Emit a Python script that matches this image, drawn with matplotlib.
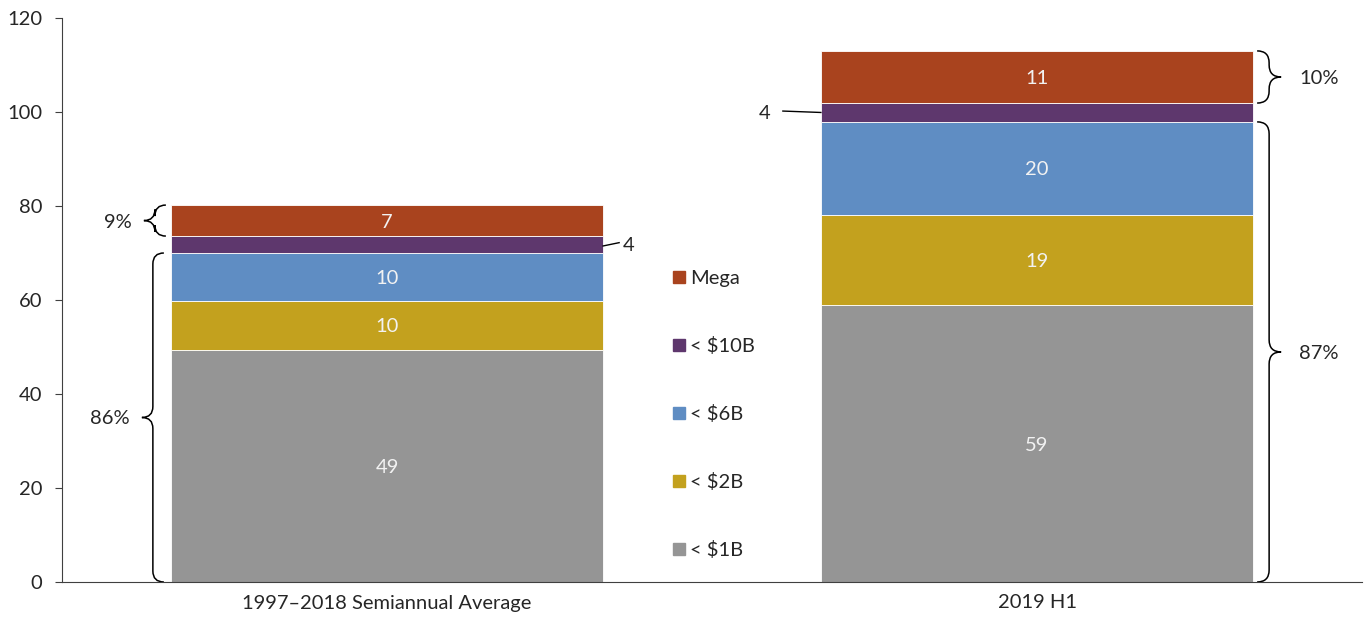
import matplotlib
matplotlib.use("Agg")
import matplotlib.pyplot as plt
from matplotlib.path import Path
from matplotlib.patches import PathPatch
import numpy as np

plt.rcParams['font.family'] = ['Lato', 'DejaVu Sans']

categories = ["1997\u20132018 Semiannual Average", "2019 H1"]
series = ["< $1B", "< $2B", "< $6B", "< $10B", "Mega"]
values = {
    "< $1B":  [49.4, 58.9],
    "< $2B":  [10.4, 19.2],
    "< $6B":  [10.2, 19.8],
    "< $10B": [3.6, 4.0],
    "Mega":   [6.6, 11.1],
}
colors = {
    "< $1B": "#959595",
    "< $2B": "#C3A11E",
    "< $6B": "#5F8DC3",
    "< $10B": "#5E376D",
    "Mega": "#A9431E",
}
share_small = ["86%", "87%"]   # < $6B and below
share_mega = ["9%", "10%"]
yticks = [0, 20, 40, 60, 80, 100, 120]

TXT = "#262626"
FS = 14.5
VA = "center_baseline"

fig = plt.figure(figsize=(13.67, 6.24), dpi=100)
ax = fig.add_axes([62/1367, 42/624, 1300/1367, 564/624])
ax.set_xlim(-0.5, 1.5)
ax.set_ylim(0, 120)

x = np.arange(len(categories))
W = 0.665
bottoms = np.zeros(len(categories))
tops = {}
for s in series:
    v = np.array(values[s])
    ax.bar(x, v, W, bottom=bottoms, color=colors[s], edgecolor="white", linewidth=0.6, zorder=2)
    for i in range(len(x)):
        if s != "< $10B":
            ax.text(x[i], bottoms[i] + v[i] / 2, f"{v[i]:.0f}", ha="center", va=VA,
                    color="#F2F2F2", fontsize=FS)
    tops[s] = (bottoms.copy(), bottoms + v)
    bottoms = bottoms + v

# axes styling
for sp in ["top", "right"]:
    ax.spines[sp].set_visible(False)
ax.spines["left"].set_color("#404040")
ax.spines["bottom"].set_color("#404040")
ax.set_yticks(yticks)
ax.set_yticklabels([str(t) for t in yticks], fontsize=FS, color=TXT)
ax.tick_params(axis="y", length=5, color="#404040", pad=9)
ax.set_xticks(x)
ax.set_xticklabels(categories, fontsize=FS, color=TXT)
ax.tick_params(axis="x", length=0, pad=9)

pxx = 1300 / 2.0   # px per x unit
pxy = 564 / 120.0  # px per y unit


def brace(xv, y0, y1, side, r=10):
    """side=-1 -> tip to left, +1 -> tip to right. xv is vertical line x (data)."""
    rx = r / pxx
    ry = r / pxy
    ym = (y0 + y1) / 2
    d = side
    verts = [
        (xv - d * rx, y1),
        (xv, y1), (xv, y1 - ry),
        (xv, ym + ry),
        (xv, ym), (xv + d * rx, ym),
        (xv, ym), (xv, ym - ry),
        (xv, y0 + ry),
        (xv, y0), (xv - d * rx, y0),
    ]
    codes = [Path.MOVETO,
             Path.CURVE3, Path.CURVE3,
             Path.LINETO,
             Path.CURVE3, Path.CURVE3,
             Path.CURVE3, Path.CURVE3,
             Path.LINETO,
             Path.CURVE3, Path.CURVE3]
    ax.add_patch(PathPatch(Path(verts, codes), fill=False, lw=1.1, color="black", zorder=3))
    return xv + d * rx, ym


left_edge = x[0] - W / 2
right_edge = x[1] + W / 2

# left bar braces
tx, ty = brace(left_edge - 18 / pxx, 0, tops["< $6B"][1][0], -1, r=11)
ax.text(tx - 12 / pxx, ty, share_small[0], ha="right", va=VA, fontsize=FS, color=TXT)
tx, ty = brace(left_edge - 16 / pxx, tops["Mega"][0][0], tops["Mega"][1][0], -1, r=11)
ax.text(tx - 12 / pxx, ty, share_mega[0], ha="right", va=VA, fontsize=FS, color=TXT)

# right bar braces
tx, ty = brace(right_edge + 16 / pxx, 0, tops["< $6B"][1][1], 1, r=12)
ax.text(tx + 18 / pxx, ty, share_small[1], ha="left", va=VA, fontsize=FS, color=TXT)
tx, ty = brace(right_edge + 16 / pxx, tops["Mega"][0][1], tops["Mega"][1][1], 1, r=12)
ax.text(tx + 18 / pxx, ty, share_mega[1], ha="left", va=VA, fontsize=FS, color=TXT)

# < $10B callouts
b, t = tops["< $10B"]
ym0 = (b[0] + t[0]) / 2
ax.plot([x[0] + W / 2, x[0] + W / 2 + 16 / pxx],
        [ym0 - 0.3, ym0 + 0.4], color="black", lw=1.0, zorder=3)
ax.text(x[0] + W / 2 + 20 / pxx, ym0 + 0.2, f"{values['< $10B'][0]:.0f}", ha="left", va=VA,
        fontsize=FS, color=TXT)
ym1 = (b[1] + t[1]) / 2
ax.plot([x[1] - W / 2 - 38 / pxx, x[1] - W / 2], [ym1 + 0.3, ym1], color="black", lw=1.0, zorder=3)
ax.text(x[1] - W / 2 - 50 / pxx, ym1 + 0.2, f"{values['< $10B'][1]:.0f}", ha="right", va=VA,
        fontsize=FS, color=TXT)

# legend (manual)
lx = (679 - 62) / 1300
ly0 = (582 - 277) / 564
dy = 68 / 564
for k, s in enumerate(reversed(series)):
    yy = ly0 - k * dy
    ax.plot([lx], [yy], marker="s", markersize=8.5, color=colors[s], transform=ax.transAxes,
            clip_on=False, linestyle="none")
    ax.text(lx + 11 / 1300, yy, s, ha="left", va=VA, fontsize=FS, color=TXT,
            transform=ax.transAxes)

fig.savefig("out.png", dpi=100)
